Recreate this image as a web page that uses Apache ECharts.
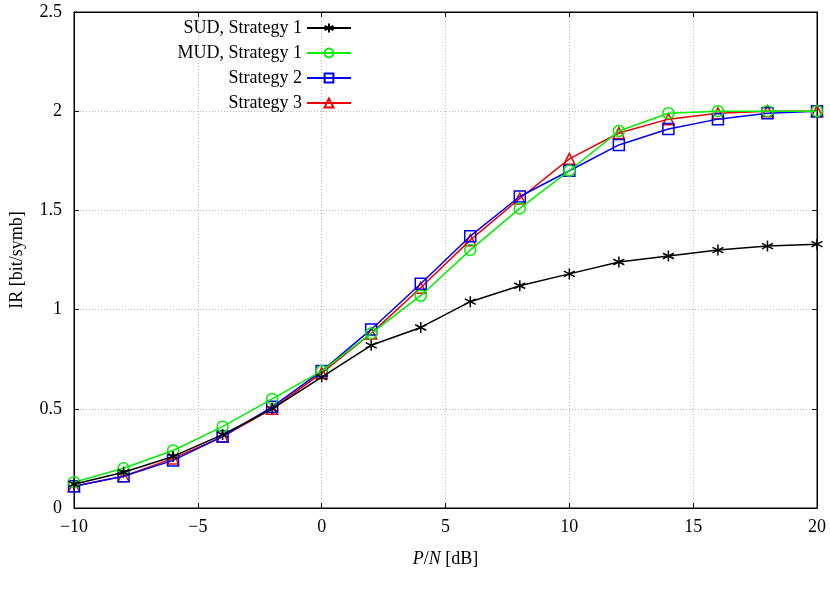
<!DOCTYPE html>
<html><head><meta charset="utf-8">
<script src="https://cdn.jsdelivr.net/npm/echarts@6/dist/echarts.min.js"></script>
<style>html,body{margin:0;padding:0;background:#fff}#c{width:830px;height:589px}</style>
</head><body><div id="c"></div>
<script>
const xValues = [-10,-8,-6,-4,-2,0,2,4,6,8,10,12,14,16,18,20];
const sud = [0.12,0.18,0.26,0.37,0.50,0.66,0.82,0.91,1.04,1.12,1.18,1.24,1.27,1.30,1.32,1.33];
const mud = [0.13,0.20,0.29,0.41,0.55,0.69,0.88,1.07,1.30,1.51,1.70,1.90,1.99,2.0,2.0,2.0];
const strat2 = [0.11,0.16,0.24,0.36,0.51,0.69,0.90,1.13,1.37,1.57,1.70,1.83,1.91,1.96,1.99,2.0];
const strat3 = [0.11,0.16,0.25,0.36,0.50,0.68,0.88,1.11,1.35,1.56,1.76,1.89,1.96,1.99,2.0,2.0];
const names = ['SUD, Strategy 1','MUD, Strategy 1','Strategy 2','Strategy 3'];
const colors = ['#000000','#00ee00','#0000ee','#ee0000'];
const symbols = ['path://M0,-1L0,1M-0.87,-0.5L0.87,0.5M-0.87,0.5L0.87,-0.5','circle','rect','triangle'];
const sizes = [11,11,11,11];
const dataSets = [sud,mud,strat2,strat3];
const font = 'Liberation Serif';
const fmt = v => (v<0?'\u2212'+(-v):String(v));
const chart = echarts.init(document.getElementById('c'));
const series = names.map((n,i)=>({
  name:n,type:'line',data:xValues.map((x,j)=>[x,dataSets[i][j]]),
  symbol:symbols[i],symbolSize:sizes[i],showSymbol:true,
  lineStyle:{color:colors[i],width:1.5},
  itemStyle:{color:i===0?colors[i]:'rgba(255,255,255,0)',borderColor:colors[i],borderWidth:1.5},
  z:10-i
}));
const legends = names.map((n,i)=>({
  data:[n],right:473,top:14+i*25,align:'right',itemWidth:44,itemHeight:11,itemGap:0,
  textStyle:{fontFamily:font,fontSize:18,color:'#000'}
}));
const axCommon = {axisLine:{onZero:false,lineStyle:{color:'#000'}},axisTick:{inside:true,lineStyle:{color:'#000'}}};
chart.setOption({
  animation:false,
  legend:legends,
  grid:{left:72,right:13,top:12,bottom:81,show:true,borderColor:'#000',borderWidth:1},
  xAxis:[{type:'value',min:-10,max:20,interval:5,...axCommon,
    axisLabel:{formatter:fmt,fontFamily:font,fontSize:18,color:'#000',margin:10},
    splitLine:{lineStyle:{color:'#bbb',type:[1,2]}},
    name:'{i|P}/{i|N} [dB]',nameLocation:'middle',nameGap:42,
    nameTextStyle:{fontFamily:font,fontSize:18,color:'#000',rich:{i:{fontFamily:font,fontSize:18,fontStyle:'italic'}}}},
   {type:'value',position:'top',min:-10,max:20,interval:5,...axCommon,axisLabel:{show:false},splitLine:{show:false}}],
  yAxis:[{type:'value',min:0,max:2.5,interval:0.5,...axCommon,
    axisLabel:{fontFamily:font,fontSize:18,color:'#000',margin:12},
    splitLine:{lineStyle:{color:'#bbb',type:[1,2]}},
    name:'IR [bit/symb]',nameLocation:'middle',nameGap:48,
    nameTextStyle:{fontFamily:font,fontSize:18,color:'#000'}},
   {type:'value',position:'right',min:0,max:2.5,interval:0.5,...axCommon,axisLabel:{show:false},splitLine:{show:false}}],
  series:series
});
</script></body></html>
